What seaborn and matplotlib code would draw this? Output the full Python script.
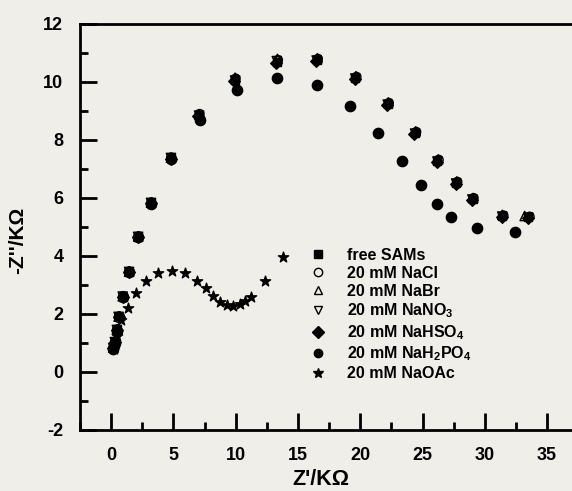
import numpy as np
import pandas as pd
import seaborn as sns
import matplotlib.pyplot as plt
from matplotlib.lines import Line2D
from matplotlib.ticker import MultipleLocator

sns.set_style("white")
plt.rcParams['font.family'] = ['Liberation Sans', 'DejaVu Sans']
plt.rcParams['font.weight'] = 'bold'
plt.rcParams['text.color'] = 'black'
plt.rcParams['axes.labelcolor'] = 'black'
plt.rcParams['xtick.color'] = 'black'
plt.rcParams['ytick.color'] = 'black'
plt.rcParams['axes.unicode_minus'] = False
plt.rcParams['mathtext.fontset'] = 'custom'
plt.rcParams['mathtext.rm'] = 'Liberation Sans:bold'
plt.rcParams['mathtext.bf'] = 'Liberation Sans:bold'
plt.rcParams['mathtext.default'] = 'bf'

# Nyquist data (Z' / KOhm, -Z'' / KOhm)
free_x = [0.17, 0.3, 0.46, 0.6, 0.93, 1.44, 2.17, 3.2, 4.8, 7.06, 9.95, 13.3, 16.5, 19.6, 22.2, 24.4, 26.2, 27.7, 29.05, 31.4, 33.5]
free_y = [0.83, 1.03, 1.45, 1.9, 2.6, 3.45, 4.66, 5.83, 7.38, 8.86, 10.07, 10.7, 10.76, 10.14, 9.24, 8.24, 7.28, 6.52, 5.97, 5.38, 5.34]
nacl_x = [0.18, 0.31, 0.47, 0.62, 0.95, 1.45, 2.2, 3.22, 4.82, 7.1, 10.0, 13.4, 16.6, 19.7, 22.3, 24.5, 26.3, 27.8, 29.1, 31.5, 33.6]
nacl_y = [0.85, 1.05, 1.47, 1.92, 2.62, 3.47, 4.68, 5.85, 7.4, 8.9, 10.12, 10.76, 10.8, 10.18, 9.28, 8.28, 7.32, 6.56, 6.0, 5.4, 5.36]
nabr_x = [0.17, 0.3, 0.46, 0.6, 0.93, 1.44, 2.17, 3.2, 4.8, 7.06, 9.95, 13.35, 16.55, 19.65, 22.25, 24.45, 26.25, 27.75, 29.05, 31.4, 33.2]
nabr_y = [0.84, 1.04, 1.46, 1.91, 2.61, 3.46, 4.67, 5.84, 7.39, 8.88, 10.15, 10.8, 10.82, 10.2, 9.3, 8.3, 7.33, 6.57, 6.0, 5.42, 5.38]
nano3_x = [0.17, 0.3, 0.46, 0.6, 0.93, 1.44, 2.17, 3.2, 4.8, 7.06, 9.95, 13.3, 16.5, 19.6, 22.2, 24.4, 26.2, 27.7, 29.0, 31.4, 33.5]
nano3_y = [0.83, 1.03, 1.45, 1.9, 2.6, 3.45, 4.66, 5.83, 7.38, 8.84, 10.05, 10.72, 10.74, 10.12, 9.22, 8.22, 7.26, 6.5, 5.95, 5.36, 5.32]
nahso4_x = [0.17, 0.3, 0.46, 0.6, 0.93, 1.44, 2.17, 3.2, 4.8, 7.0, 9.9, 13.25, 16.45, 19.55, 22.15, 24.35, 26.15, 27.65, 29.0, 31.35, 33.45]
nahso4_y = [0.82, 1.02, 1.44, 1.89, 2.59, 3.44, 4.65, 5.82, 7.36, 8.84, 10.02, 10.66, 10.72, 10.1, 9.2, 8.2, 7.24, 6.48, 5.94, 5.36, 5.32]
nah2po4_x = [0.17, 0.3, 0.46, 0.6, 0.93, 1.44, 2.17, 3.2, 4.8, 7.1, 10.1, 13.3, 16.5, 19.2, 21.4, 23.35, 24.9, 26.2, 27.3, 29.4, 32.4]
nah2po4_y = [0.8, 1.0, 1.42, 1.88, 2.58, 3.44, 4.64, 5.8, 7.34, 8.7, 9.72, 10.14, 9.9, 9.17, 8.24, 7.28, 6.45, 5.79, 5.34, 4.97, 4.83]
naoac_x = [0.2, 0.45, 0.8, 1.37, 1.98, 2.8, 3.74, 4.87, 5.94, 6.88, 7.6, 8.2, 8.75, 9.3, 9.8, 10.35, 10.75, 11.2, 12.35, 13.8]
naoac_y = [0.8, 1.25, 1.8, 2.2, 2.72, 3.14, 3.41, 3.48, 3.41, 3.14, 2.9, 2.62, 2.41, 2.3, 2.28, 2.34, 2.45, 2.59, 3.14, 3.97]

labels = ["free SAMs", "20 mM NaCl", "20 mM NaBr", "20 mM NaNO$_3$",
          "20 mM NaHSO$_4$", "20 mM NaH$_2$PO$_4$", "20 mM NaOAc"]

series = [
    (free_x, free_y, "s", True, 40),
    (nacl_x, nacl_y, "o", False, 40),
    (nabr_x, nabr_y, "^", False, 45),
    (nano3_x, nano3_y, "v", False, 45),
    (nahso4_x, nahso4_y, "D", True, 35),
    (nah2po4_x, nah2po4_y, "o", True, 55),
    (naoac_x, naoac_y, "*", True, 60),
]

bg = "#efeee8"
fig = plt.figure(figsize=(5.72, 4.91), dpi=100, facecolor=bg)
ax = fig.add_axes([80 / 572, 1 - 430 / 491, 1 - 80 / 572, (430 - 24) / 491])
ax.set_facecolor(bg)

for (xs, ys, m, filled, s), lab in zip(series, labels):
    df = pd.DataFrame({"x": xs, "y": ys})
    sns.scatterplot(data=df, x="x", y="y", ax=ax, marker=m, s=s,
                    facecolor="black" if filled else "none",
                    edgecolor="black", linewidth=1.0, legend=False)

ax.set_xlim(-2.5, 37)
ax.set_ylim(-2, 12)
ax.xaxis.set_major_locator(MultipleLocator(5))
ax.xaxis.set_minor_locator(MultipleLocator(2.5))
ax.yaxis.set_major_locator(MultipleLocator(2))
ax.yaxis.set_minor_locator(MultipleLocator(1))
ax.tick_params(which="both", direction="in", width=2, top=False, right=False,
               bottom=True, left=True, colors="black")
ax.tick_params(which="major", length=12, pad=12, labelsize=13)
ax.tick_params(which="minor", length=6)
for t in ax.get_xticklabels() + ax.get_yticklabels():
    t.set_fontweight("bold")
for side in ["left", "bottom", "top"]:
    ax.spines[side].set_linewidth(2)
    ax.spines[side].set_color("black")
ax.spines["right"].set_visible(False)

ax.set_xlabel("Z'/K\u03a9", fontsize=15.5, fontweight="bold")
ax.set_ylabel("-Z''/K\u03a9", fontsize=15, fontweight="bold")
ax.xaxis.set_label_coords(0.49, -0.097)
ax.yaxis.set_label_coords(-0.108, 0.468)

handles = []
for xs, ys, m, filled, s in series:
    handles.append(Line2D([], [], linestyle="none", marker=m, color="black",
                          markerfacecolor="black" if filled else "none",
                          markersize=6 if m != "*" else 7, markeredgewidth=1.0))
ax.legend(handles, labels, loc="upper left", bbox_to_anchor=(310 / 572, 1 - 248 / 491),
          bbox_transform=fig.transFigure, frameon=False, handlelength=1.0,
          handletextpad=1.3, borderpad=0, borderaxespad=0, labelspacing=0.18,
          prop={"weight": "bold", "size": 11.5})

fig.savefig("out.png", dpi=100, facecolor=bg)
